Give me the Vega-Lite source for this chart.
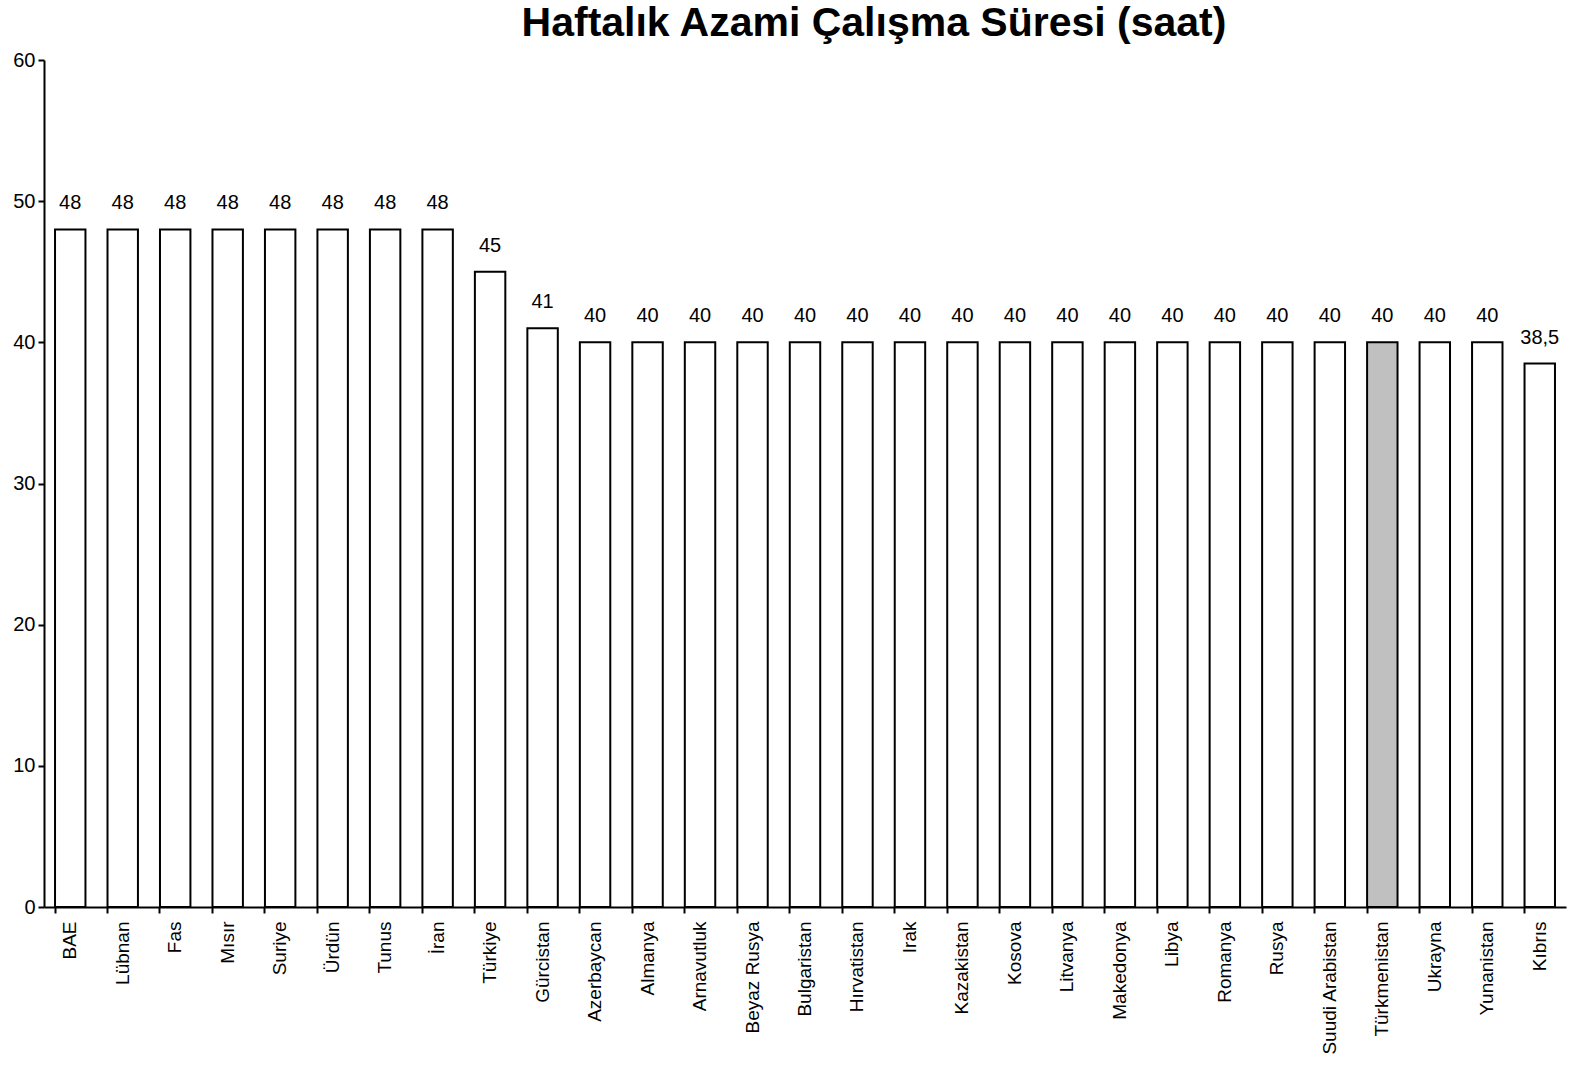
{
  "$schema": "https://vega.github.io/schema/vega-lite/v6.json",
  "width": 1522,
  "height": 847,
  "autosize": "none",
  "padding": {"left": 44, "top": 60, "right": 11, "bottom": 158},
  "background": "white",
  "title": {
    "text": "Haftalık Azami Çalışma Süresi (saat)",
    "font": "Liberation Sans",
    "fontSize": 41,
    "fontWeight": "bold",
    "color": "black",
    "anchor": "middle",
    "dx": 69,
    "offset": 5
  },
  "data": {
    "values": [
      {"ulke": "BAE", "saat": 48},
      {"ulke": "Lübnan", "saat": 48},
      {"ulke": "Fas", "saat": 48},
      {"ulke": "Mısır", "saat": 48},
      {"ulke": "Suriye", "saat": 48},
      {"ulke": "Ürdün", "saat": 48},
      {"ulke": "Tunus", "saat": 48},
      {"ulke": "İran", "saat": 48},
      {"ulke": "Türkiye", "saat": 45},
      {"ulke": "Gürcistan", "saat": 41},
      {"ulke": "Azerbaycan", "saat": 40},
      {"ulke": "Almanya", "saat": 40},
      {"ulke": "Arnavutluk", "saat": 40},
      {"ulke": "Beyaz Rusya", "saat": 40},
      {"ulke": "Bulgaristan", "saat": 40},
      {"ulke": "Hırvatistan", "saat": 40},
      {"ulke": "Irak", "saat": 40},
      {"ulke": "Kazakistan", "saat": 40},
      {"ulke": "Kosova", "saat": 40},
      {"ulke": "Litvanya", "saat": 40},
      {"ulke": "Makedonya", "saat": 40},
      {"ulke": "Libya", "saat": 40},
      {"ulke": "Romanya", "saat": 40},
      {"ulke": "Rusya", "saat": 40},
      {"ulke": "Suudi Arabistan", "saat": 40},
      {"ulke": "Türkmenistan", "saat": 40},
      {"ulke": "Ukrayna", "saat": 40},
      {"ulke": "Yunanistan", "saat": 40},
      {"ulke": "Kıbrıs", "saat": 38.5}
    ]
  },
  "encoding": {
    "x": {
      "field": "ulke",
      "type": "nominal",
      "sort": null,
      "title": null,
      "scale": {"paddingInner": 0.42, "paddingOuter": 0.21},
      "axis": {
        "labelAngle": -90,
        "labelFontSize": 19,
        "labelPadding": 8,
        "bandPosition": 0,
        "tickSize": 6,
        "tickWidth": 2,
        "domainWidth": 2
      }
    },
    "y": {
      "field": "saat",
      "type": "quantitative",
      "title": null,
      "scale": {"domain": [0, 60]},
      "axis": {
        "values": [0, 10, 20, 30, 40, 50, 60],
        "grid": false,
        "labelFontSize": 20,
        "tickSize": 6,
        "tickWidth": 2,
        "domainWidth": 2,
        "labelPadding": 3
      }
    }
  },
  "layer": [
    {
      "mark": {"type": "bar", "stroke": "black", "strokeWidth": 2},
      "encoding": {
        "fill": {
          "condition": {"test": "datum.ulke === 'Türkmenistan'", "value": "#c0c0c0"},
          "value": "white"
        }
      }
    },
    {
      "mark": {"type": "text", "baseline": "bottom", "dy": -16, "fontSize": 20, "font": "Liberation Sans", "color": "black"},
      "encoding": {
        "text": {"field": "saat", "type": "quantitative", "format": ".1~f"}
      }
    }
  ],
  "config": {
    "locale": {
      "number": {"decimal": ",", "thousands": ".", "grouping": [3], "currency": ["", " TL"]}
    },
    "font": "Liberation Sans",
    "view": {"stroke": null},
    "axis": {
      "labelColor": "black",
      "domainColor": "black",
      "tickColor": "black",
      "labelFont": "Liberation Sans"
    }
  }
}
